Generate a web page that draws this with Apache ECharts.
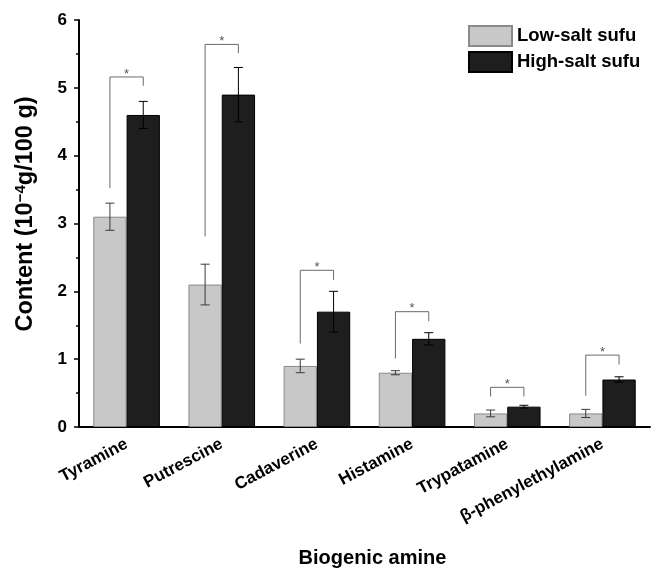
<!DOCTYPE html>
<html>
<head>
<meta charset="utf-8">
<script src="https://cdn.jsdelivr.net/npm/echarts@6/dist/echarts.min.js"></script>
<style>
  html, body { margin: 0; padding: 0; background: #fff; }
  #chart { width: 654px; height: 570px; }
</style>
</head>
<body>
<div id="chart"></div>
<script>
// Biogenic amine content in low- and high-salt sufu (mean ± SD)
const categories = ['Tyramine', 'Putrescine', 'Cadaverine', 'Histamine', 'Trypatamine', 'β-phenylethylamine'];
const lowSalt = [3.1, 2.1, 0.9, 0.8, 0.2, 0.2];
const lowSaltErr = [0.2, 0.3, 0.1, 0.03, 0.05, 0.06];
const highSalt = [4.6, 4.9, 1.7, 1.3, 0.3, 0.7];
const highSaltErr = [0.2, 0.4, 0.3, 0.09, 0.02, 0.04];
// significance brackets (value units): top bar, end of low-salt leg, end of high-salt leg
const bracketTop = [5.16, 5.64, 2.31, 1.70, 0.585, 1.06];
const bracketLowEnd = [3.52, 2.81, 1.23, 1.01, 0.45, 0.46];
const bracketHighEnd = [5.03, 5.51, 2.17, 1.56, 0.45, 0.92];
const significance = ['*', '*', '*', '*', '*', '*'];
const yTicks = [0, 1, 2, 3, 4, 5, 6];

const FONT = '"Liberation Sans", Arial, sans-serif';
const GAP = 0.30;           // barCategoryGap fraction
const OFF = (1 - GAP) / 4;  // bar centre offset as a fraction of band width

const chart = echarts.init(document.getElementById('chart'));

function errorAndBracket(params, api) {
  const i = api.value(0);
  const band = api.size([1, 0])[0];
  const cx = api.coord([i, 0])[0];
  const xl = cx - band * OFF;
  const xh = cx + band * OFF;
  const y = v => api.coord([i, v])[1];
  const cap = 4.5;
  const children = [];
  const err = (x, m, e, color) => {
    const t = y(m + e), b = y(m - e);
    children.push(
      { type: 'line', shape: { x1: x, y1: t, x2: x, y2: b }, style: { stroke: color, lineWidth: 1 } },
      { type: 'line', shape: { x1: x - cap, y1: t, x2: x + cap, y2: t }, style: { stroke: color, lineWidth: 1 } },
      { type: 'line', shape: { x1: x - cap, y1: b, x2: x + cap, y2: b }, style: { stroke: color, lineWidth: 1 } }
    );
  };
  err(xl, lowSalt[i], lowSaltErr[i], '#3a3a3a');
  err(xh, highSalt[i], highSaltErr[i], '#000');
  const yt = y(bracketTop[i]);
  children.push({
    type: 'polyline',
    shape: { points: [[xl, y(bracketLowEnd[i])], [xl, yt], [xh, yt], [xh, y(bracketHighEnd[i])]] },
    style: { stroke: '#6a6a6a', lineWidth: 1, fill: null }
  });
  children.push({
    type: 'text',
    style: {
      x: (xl + xh) / 2, y: yt - 3, text: significance[i],
      textAlign: 'center', textVerticalAlign: 'middle',
      font: '13px ' + FONT, fill: '#555'
    }
  });
  return { type: 'group', children };
}

chart.setOption({
  animation: false,
  backgroundColor: '#fff',
  grid: { left: 79, right: 4, top: 20, bottom: 143, containLabel: false, outerBoundsMode: 'none' },
  legend: {
    orient: 'vertical',
    left: 463,
    top: 20,
    itemWidth: 43,
    itemHeight: 20,
    itemGap: 4,
    icon: 'rect',
    textStyle: { fontFamily: FONT, fontWeight: 'bold', fontSize: 18.5, color: '#000' },
    data: ['Low-salt sufu', 'High-salt sufu']
  },
  xAxis: {
    type: 'category',
    data: categories,
    name: 'Biogenic amine',
    nameLocation: 'middle',
    nameGap: 121,
    nameTextStyle: { fontFamily: FONT, fontWeight: 'bold', fontSize: 20, color: '#000', padding: [0, 0, 0, 16] },
    axisLine: { lineStyle: { color: '#000', width: 2 } },
    axisTick: { alignWithLabel: true, length: 5, lineStyle: { color: '#000', width: 1.5 } },
    axisLabel: {
      rotate: 28, margin: 16, interval: 0,
      fontFamily: FONT, fontWeight: 'bold', fontSize: 17, color: '#000'
    }
  },
  yAxis: {
    type: 'value',
    min: 0, max: 6, interval: 1,
    name: '{a|Content (10}{s|−4}{a|g/100 g)}',
    nameLocation: 'middle',
    nameGap: 41,
    nameTextStyle: {
      padding: [0, 0, 0, 19],
      rich: {
        a: { fontFamily: FONT, fontWeight: 'bold', fontSize: 23.5, color: '#000' },
        s: { fontFamily: FONT, fontWeight: 'bold', fontSize: 15, color: '#000', verticalAlign: 'top', padding: [0, 0, 10, 0] }
      }
    },
    axisLine: { show: true, lineStyle: { color: '#000', width: 2 } },
    axisTick: { show: true, length: 5, lineStyle: { color: '#000', width: 1.5 } },
    minorTick: { show: true, splitNumber: 2, length: 3, lineStyle: { color: '#000', width: 1.5 } },
    splitLine: { show: false },
    axisLabel: {
      margin: 12, fontFamily: FONT, fontWeight: 'bold', fontSize: 17, color: '#000',
      formatter: v => (yTicks.includes(v) ? String(v) : '')
    }
  },
  series: [
    {
      name: 'Low-salt sufu', type: 'bar', data: lowSalt,
      barGap: '0%', barCategoryGap: (GAP * 100) + '%',
      itemStyle: { color: '#c8c8c8', borderColor: '#8a8a8a', borderWidth: 1 }
    },
    {
      name: 'High-salt sufu', type: 'bar', data: highSalt,
      barGap: '0%', barCategoryGap: (GAP * 100) + '%',
      itemStyle: { color: '#1e1e1e', borderColor: '#000', borderWidth: 1 }
    },
    {
      type: 'custom', renderItem: errorAndBracket,
      data: categories.map((_, i) => [i]), z: 10, silent: true
    }
  ]
});
</script>
</body>
</html>
